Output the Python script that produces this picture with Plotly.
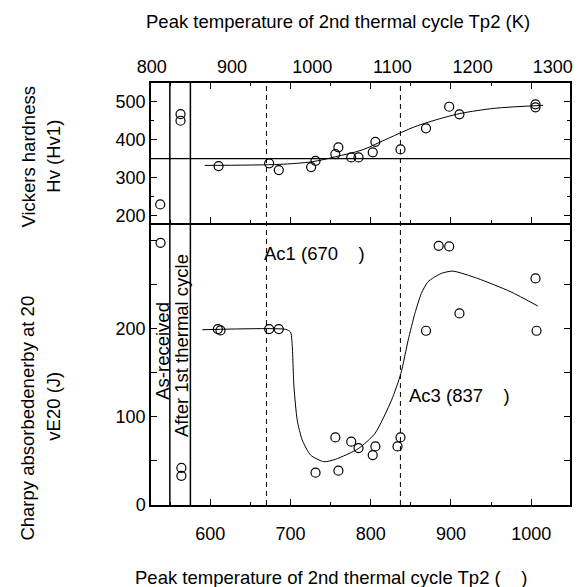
import plotly.graph_objects as go

FONT = "Liberation Sans, Arial, Helvetica, sans-serif"

# ---- Charpy absorbed energy (bottom panel, Tp2 in deg C) ----
charpy_temp = [538, 564, 564, 609.4, 612.7, 673.4, 685.4, 731.2, 755.9, 759.7, 775.7,
               784.8, 802.5, 805.8, 833.4, 837.1, 868.9, 884.7, 897.8, 910.6, 1005.4, 1006.7]
charpy_energy = [297, 42, 33, 199.3, 197.8, 199.3, 199.3, 36.6, 76.6, 38.9, 71.7,
                 64.5, 56.6, 66.4, 66.4, 76.6, 197.4, 293.7, 293, 217.1, 256.7, 197.4]

charpy_fit_temp = [590, 694, 700, 702, 704.3, 708.4, 714.6, 725, 741.5, 755.9, 784.8, 805.4,
                   826, 837.6, 846.7, 855, 863.1, 871.4, 887.9, 902.4, 933.3, 974.5, 1008.4]
charpy_fit_energy = [198.6, 199, 196, 183, 134, 96, 73.6, 56.6, 49, 51.7, 64, 81.2,
                     118.9, 149, 186.9, 217, 239.7, 253, 262.4, 265, 256.7, 241.6, 225.4]

# ---- Vickers hardness (top panel, Tp2 in K) ----
hv_temp_K = [810.6, 835.9, 835.9, 883.3, 946.4, 958.4, 998.7, 1004.2, 1028.9, 1032.7,
             1048.7, 1057.8, 1075.5, 1078.8, 1110.1, 1141.9, 1170.8, 1183.6, 1278.4, 1278.4]
hv_values = [229.5, 467, 449.5, 330.3, 337.4, 319.7, 327.6, 344, 361.8, 379.5,
             353, 353, 366.3, 394, 374, 429.5, 486.3, 466.3, 492.6, 484.7]

hv_fit_temp_K = [866, 958.8, 1000, 1028.9, 1061.9, 1094.9, 1127.9, 1160.9, 1185.6, 1227, 1288]
hv_fit_values = [332, 334.7, 341.6, 354.7, 372.4, 403.2, 433.7, 455.8, 469, 482.1, 490]

# reference lines
hv_reference = 350
state_lines_C = [549.6, 575.2]      # As-received / after 1st thermal cycle separators
transform_C = [670, 837]            # Ac1, Ac3

x_range_C = [526.1, 1048.4]
x_range_K = [x_range_C[0] + 273, x_range_C[1] + 273]
bottom_ticks_C = [600, 700, 800, 900, 1000]
top_ticks_K = [800, 900, 1000, 1100, 1200, 1300]

fig = go.Figure()

fig.add_trace(go.Scatter(x=charpy_fit_temp, y=charpy_fit_energy, mode="lines",
                         line=dict(color="black", width=1, shape="spline", smoothing=0.6),
                         xaxis="x", yaxis="y", showlegend=False, hoverinfo="skip"))
fig.add_trace(go.Scatter(x=charpy_temp, y=charpy_energy, mode="markers",
                         marker=dict(symbol="circle-open", size=9, color="black",
                                     line=dict(width=1.2, color="black")),
                         xaxis="x", yaxis="y", showlegend=False))
fig.add_trace(go.Scatter(x=hv_fit_temp_K, y=hv_fit_values, mode="lines",
                         line=dict(color="black", width=1, shape="spline", smoothing=0.8),
                         xaxis="x2", yaxis="y2", showlegend=False, hoverinfo="skip"))
fig.add_trace(go.Scatter(x=hv_temp_K, y=hv_values, mode="markers",
                         marker=dict(symbol="circle-open", size=9, color="black",
                                     line=dict(width=1.2, color="black")),
                         xaxis="x2", yaxis="y2", showlegend=False))
# empty trace so the deg-C tick axis of the top panel is drawn
fig.add_trace(go.Scatter(x=[], y=[], xaxis="x3", yaxis="y2", showlegend=False))

axis_common = dict(showgrid=False, zeroline=False, showline=True, linecolor="black",
                   linewidth=1.5, tickcolor="black", tickfont=dict(size=18, color="black"))

shapes = []
for xv in state_lines_C:
    shapes.append(dict(type="line", xref="x", yref="paper", x0=xv, x1=xv, y0=0, y1=1,
                       line=dict(color="black", width=1.5)))
for xv in transform_C:
    shapes.append(dict(type="line", xref="x", yref="paper", x0=xv, x1=xv, y0=0, y1=1,
                       line=dict(color="black", width=1, dash="5px,4px")))
shapes.append(dict(type="line", xref="paper", yref="y2", x0=0, x1=1,
                   y0=hv_reference, y1=hv_reference, line=dict(color="black", width=1.2)))

txt = dict(size=18.5, color="black", family=FONT)
nb = "\u00a0" * 4
annotations = [
    dict(text="Ac1 (670" + nb + ")", x=664.7, y=285, xref="x", yref="y",
         xanchor="left", yanchor="middle", showarrow=False, font=txt),
    dict(text="Ac3 (837" + nb + ")", x=845.8, y=124.6, xref="x", yref="y",
         xanchor="left", yanchor="middle", showarrow=False, font=txt),
    dict(text="As-received", x=539.4, y=174.4, xref="x", yref="y", textangle=-90,
         xanchor="center", yanchor="middle", showarrow=False, font=txt),
    dict(text="After 1st thermal cycle", x=563.4, y=181.2, xref="x", yref="y", textangle=-90,
         xanchor="center", yanchor="middle", showarrow=False, font=txt),
    dict(text="Peak temperature of 2nd thermal cycle Tp2 (K)", x=0.4455, y=1.145,
         xref="paper", yref="paper", xanchor="center", yanchor="middle",
         showarrow=False, font=txt),
    dict(text="Peak temperature of 2nd thermal cycle Tp2 (" + nb + ")", x=0.429, y=-0.171,
         xref="paper", yref="paper", xanchor="center", yanchor="middle",
         showarrow=False, font=txt),
    dict(text="Vickers hardness", x=-0.2945, y=0.8246, xref="paper", yref="paper",
         textangle=-90, xanchor="center", yanchor="middle", showarrow=False, font=txt),
    dict(text="Hv (Hv1)", x=-0.2315, y=0.8254, xref="paper", yref="paper",
         textangle=-90, xanchor="center", yanchor="middle", showarrow=False, font=txt),
    dict(text="Charpy absorbedenerby at 20", x=-0.2945, y=0.2062, xref="paper", yref="paper",
         textangle=-90, xanchor="center", yanchor="middle", showarrow=False, font=txt),
    dict(text="vE20 (J)", x=-0.2315, y=0.233, xref="paper", yref="paper",
         textangle=-90, xanchor="center", yanchor="middle", showarrow=False, font=txt),
]

fig.update_layout(
    width=584, height=587,
    margin=dict(l=151, r=11, t=83, b=82),
    paper_bgcolor="white", plot_bgcolor="white",
    font=dict(family=FONT, color="black"),
    xaxis=dict(axis_common, domain=[0, 1], anchor="y", range=x_range_C, side="bottom",
               tickmode="array", tickvals=bottom_ticks_C, ticks="inside", ticklen=6,
               minor=dict(tickmode="linear", tick0=0, dtick=50, ticks="inside", ticklen=3,
                          tickcolor="black"),
               ticklabelstandoff=12, mirror=False),
    yaxis=dict(axis_common, domain=[0, 0.668], anchor="x", range=[0, 319.4],
               tickmode="array", tickvals=[0, 100, 200], ticks="inside", ticklen=6,
               minor=dict(tickmode="linear", tick0=0, dtick=50, ticks="inside", ticklen=6,
                          tickcolor="black"),
               mirror="ticks"),
    xaxis2=dict(axis_common, domain=[0, 1], anchor="y2", range=x_range_K, side="top",
                tickmode="array", tickvals=top_ticks_K, ticks="", mirror=False,
                ticklabelstandoff=1),
    xaxis3=dict(axis_common, domain=[0, 1], anchor="y2", overlaying="x2", range=x_range_C,
                side="top", showticklabels=False, tickmode="array", tickvals=bottom_ticks_C,
                ticks="inside", ticklen=6,
                minor=dict(tickmode="linear", tick0=0, dtick=50, ticks="inside", ticklen=3,
                           tickcolor="black"),
                mirror="ticks"),
    yaxis2=dict(axis_common, domain=[0.668, 1], anchor="x2", range=[180.3, 548.7],
                tickmode="array", tickvals=[200, 300, 400, 500], ticks="inside", ticklen=6,
                minor=dict(tickmode="linear", tick0=0, dtick=50, ticks="inside", ticklen=3,
                           tickcolor="black"),
                mirror="ticks"),
    shapes=shapes,
    annotations=annotations,
)

fig.write_html("out.html", config={"displayModeBar": False},
               post_script="document.body.style.margin='0';document.body.style.padding='0';")
